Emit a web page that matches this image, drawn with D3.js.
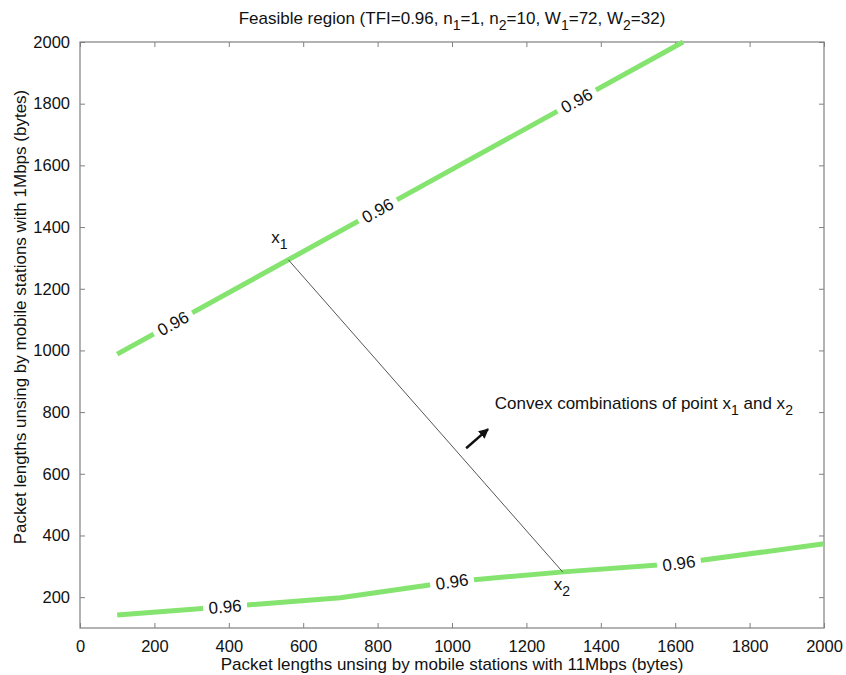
<!DOCTYPE html>
<html>
<head>
<meta charset="utf-8">
<script src="https://cdn.jsdelivr.net/npm/d3@7"></script>
<style>
  body { margin: 0; background: #fff; }
  text { font-family: "Liberation Sans", Arial, sans-serif; fill: #111; }
</style>
</head>
<body>
<svg id="chart"></svg>
<script>
// tick values
const xTicks = [0, 200, 400, 600, 800, 1000, 1200, 1400, 1600, 1800, 2000];
const yTicks = [200, 400, 600, 800, 1000, 1200, 1400, 1600, 1800, 2000];

// contour lines at TFI = 0.96
const upperContour = [[100, 988], [560, 1294], [1000, 1587], [1621, 2000]];
const lowerContour = [[100, 142], [400, 170], [700, 198], [1000, 250], [1300, 282], [1600, 308], [2000, 373]];

// where the "0.96" labels sit (x positions along each contour)
const upperLabelX = [250, 800, 1335];
const lowerLabelX = [390, 1000, 1610];
const contourLabel = "0.96";

// the two points and the segment between them
const pointX1 = [560, 1294];
const pointX2 = [1298, 281];

// arrow: tail -> head
const arrowPts = [[1038, 683], [1097, 745]];

const config = {
    width: 846,
    height: 675,
    margin: {top: 42, right: 22, bottom: 47, left: 80}
};

const innerW = config.width - config.margin.left - config.margin.right;
const innerH = config.height - config.margin.top - config.margin.bottom;

const xScale = d3.scaleLinear().domain([0, 2000]).range([0, innerW]);
const yScale = d3.scaleLinear().domain([100, 2000]).range([innerH, 0]);

const svg = d3.select("#chart")
    .attr("width", config.width)
    .attr("height", config.height);

const chart = svg.append("g")
    .attr("transform", `translate(${config.margin.left},${config.margin.top})`);

const axisColor = "#808080";
const fmt = d3.format("d");

// axes with inward ticks on all four sides (matlab-ish box)
const styleAxis = (g, hideLabels) => {
    g.select(".domain").remove();
    g.selectAll(".tick line").attr("stroke", axisColor);
    g.selectAll(".tick text")
        .attr("font-size", 16.5)
        .style("fill", "#111");
    if (hideLabels) g.selectAll(".tick text").remove();
};

chart.append("g")
    .attr("transform", `translate(0,${innerH})`)
    .call(d3.axisBottom(xScale).tickValues(xTicks).tickFormat(fmt).tickSize(-5).tickPadding(12))
    .call(g => styleAxis(g, false));

chart.append("g")
    .call(d3.axisTop(xScale).tickValues(xTicks).tickSize(-5))
    .call(g => styleAxis(g, true));

chart.append("g")
    .call(d3.axisLeft(yScale).tickValues(yTicks).tickFormat(fmt).tickSize(-5).tickPadding(10))
    .call(g => styleAxis(g, false));

chart.append("g")
    .attr("transform", `translate(${innerW},0)`)
    .call(d3.axisRight(yScale).tickValues(yTicks).tickSize(-5))
    .call(g => styleAxis(g, true));

chart.append("rect")
    .attr("width", innerW)
    .attr("height", innerH)
    .attr("fill", "none")
    .attr("stroke", axisColor)
    .attr("stroke-width", 1.2);

// contour lines
const line = d3.line()
    .x(d => xScale(d[0]))
    .y(d => yScale(d[1]));

const green = "#84e46f";

chart.selectAll(".contour")
    .data([upperContour, lowerContour])
    .join("path")
    .attr("class", "contour")
    .attr("d", line)
    .attr("fill", "none")
    .attr("stroke", green)
    .attr("stroke-width", 5)
    .attr("stroke-linecap", "butt");

// interpolate a y value and local pixel angle along a polyline
function placeOnLine(pts, x) {
    let i = 0;
    while (i < pts.length - 2 && x > pts[i + 1][0]) i++;
    const a = pts[i], b = pts[i + 1];
    const t = (x - a[0]) / (b[0] - a[0]);
    const y = a[1] + t * (b[1] - a[1]);
    const ang = Math.atan2(yScale(b[1]) - yScale(a[1]), xScale(b[0]) - xScale(a[0])) * 180 / Math.PI;
    return {px: xScale(x), py: yScale(y), ang};
}

const labelData = upperLabelX.map(x => placeOnLine(upperContour, x))
    .concat(lowerLabelX.map(x => placeOnLine(lowerContour, x)));

const labels = chart.selectAll(".clabel")
    .data(labelData)
    .join("g")
    .attr("class", "clabel")
    .attr("transform", d => `translate(${d.px},${d.py}) rotate(${d.ang})`);

labels.append("rect")
    .attr("x", -22).attr("y", -6)
    .attr("width", 44).attr("height", 12)
    .attr("fill", "#fff");

labels.append("text")
    .attr("text-anchor", "middle")
    .attr("dy", "0.35em")
    .attr("font-size", 17)
    .text(contourLabel);

// segment between x1 and x2
chart.append("line")
    .attr("x1", xScale(pointX1[0])).attr("y1", yScale(pointX1[1]))
    .attr("x2", xScale(pointX2[0])).attr("y2", yScale(pointX2[1]))
    .attr("stroke", "#555")
    .attr("stroke-width", 1);

// subscripted labels
function subText(g, x, y, base, sub) {
    const t = g.append("text")
        .attr("x", x).attr("y", y)
        .attr("font-size", 17);
    t.append("tspan").text(base);
    t.append("tspan").attr("dy", 6).attr("font-size", 14).text(sub);
    return t;
}

subText(chart, xScale(pointX1[0]) - 17, yScale(pointX1[1]) - 17, "x", "1");
subText(chart, xScale(pointX2[0]) - 9, yScale(pointX2[1]) + 18, "x", "2");

// annotation text
const note = chart.append("text")
    .attr("x", xScale(1115))
    .attr("y", yScale(810))
    .attr("font-size", 17);
note.append("tspan").text("Convex combinations of point x");
note.append("tspan").attr("dy", 6).attr("font-size", 14).text("1");
note.append("tspan").attr("dy", -6).text(" and x");
note.append("tspan").attr("dy", 6).attr("font-size", 14).text("2");

// arrow
svg.append("defs").append("marker")
    .attr("id", "head")
    .attr("viewBox", "0 0 10 10")
    .attr("refX", 9).attr("refY", 5)
    .attr("markerWidth", 4).attr("markerHeight", 4)
    .attr("orient", "auto")
    .append("path")
    .attr("d", "M0,0 L10,5 L0,10 Z")
    .attr("fill", "#111");

chart.append("line")
    .attr("x1", xScale(arrowPts[0][0])).attr("y1", yScale(arrowPts[0][1]))
    .attr("x2", xScale(arrowPts[1][0])).attr("y2", yScale(arrowPts[1][1]))
    .attr("stroke", "#111")
    .attr("stroke-width", 2.5)
    .attr("marker-end", "url(#head)");

// title
const title = svg.append("text")
    .attr("x", config.margin.left + innerW / 2)
    .attr("y", 24)
    .attr("text-anchor", "middle")
    .attr("font-size", 17);
const titleParts = [
    ["Feasible region (TFI=0.96, n", 0], ["1", 1], ["=1, n", 0], ["2", 1],
    ["=10, W", 0], ["1", 1], ["=72, W", 0], ["2", 1], ["=32)", 0]
];
let prevSub = 0;
titleParts.forEach(([s, sub]) => {
    title.append("tspan")
        .attr("dy", (sub - prevSub) * 6)
        .attr("font-size", sub ? 14 : 17)
        .text(s);
    prevSub = sub;
});

// axis titles
svg.append("text")
    .attr("x", config.margin.left + innerW / 2)
    .attr("y", 670)
    .attr("text-anchor", "middle")
    .attr("font-size", 17)
    .text("Packet lengths unsing by mobile stations with 11Mbps (bytes)");

svg.append("text")
    .attr("transform", `translate(26,${config.margin.top + innerH / 2 - 18}) rotate(-90)`)
    .attr("text-anchor", "middle")
    .attr("font-size", 17)
    .text("Packet lengths unsing by mobile stations with 1Mbps (bytes)");
</script>
</body>
</html>
